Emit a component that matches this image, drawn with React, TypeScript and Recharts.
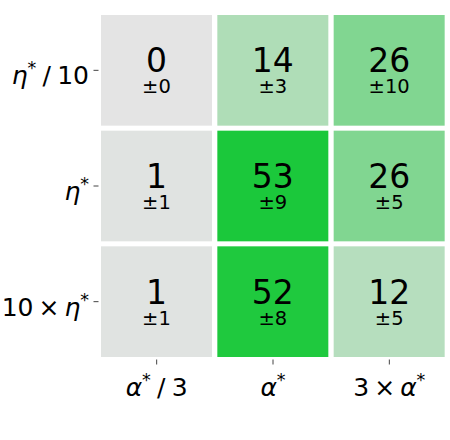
import { Bar, BarChart, XAxis, YAxis } from "recharts";

// heatmap values, rows top -> bottom, columns left -> right
const colLabels = ["α*/3", "α*", "3×α*"];
const rowLabels = ["η*/10", "η*", "10×η*"];
const means = [
  [0, 14, 26],
  [1, 53, 26],
  [1, 52, 12],
];
const stds = [
  [0, 3, 10],
  [1, 9, 5],
  [1, 8, 5],
];

const lowColor = [228, 228, 228];
const highColor = [27, 200, 59];
const colorMax = Math.max(...means.flat());

const font = "'DejaVu Sans', sans-serif";
const gap = 5;

function cellColor(v: number) {
  const t = v / colorMax;
  const c = lowColor.map((lo, i) => Math.round(lo + (highColor[i] - lo) * t));
  return `rgb(${c[0]},${c[1]},${c[2]})`;
}

// one unit of height per row, stacked, so each column holds three equal cells
const tableData = colLabels.map((col) => ({ col, r0: 1, r1: 1, r2: 1 }));

// crude mathtext: greek letters italic, "*" as superscript
function mathTspans(label: string, size: number) {
  const out: any[] = [];
  const rise = size * 0.4;
  let raised = false;
  Array.from(label).forEach((ch, i) => {
    if (ch === "*") {
      out.push(
        <tspan key={i} dy={-rise} fontSize={size * 0.7}>
          *
        </tspan>
      );
      raised = true;
      return;
    }
    const dy = raised ? rise : 0;
    raised = false;
    const italic = ch === "η" || ch === "α";
    let text = ch;
    if (ch === "/") text = "\u2005/\u2005";
    if (ch === "×") text = "\u2009×\u2009";
    out.push(
      <tspan key={i} dy={dy} fontStyle={italic ? "italic" : "normal"}>
        {text}
      </tspan>
    );
  });
  return out;
}

function XTick(props: any) {
  const { x, y, payload } = props;
  return (
    <text x={x} y={y + 29} textAnchor="middle" fontFamily={font} fontSize={25} fill="#000">
      {mathTspans(String(payload.value), 25)}
    </text>
  );
}

function YTick(props: any) {
  const { x, y, payload } = props;
  const row = 2 - Math.floor(payload.value);
  return (
    <text x={x - 2.5} y={y + 14} textAnchor="end" fontFamily={font} fontSize={25} fill="#000">
      {mathTspans(rowLabels[row], 25)}
    </text>
  );
}

function HeatCell(props: any) {
  const { x, y, width, height, index, row } = props;
  const cx = x + width / 2;
  const cy = y + height / 2;
  return (
    <g>
      <rect
        x={x + gap / 2}
        y={y + gap / 2}
        width={width - gap}
        height={height - gap}
        fill={cellColor(means[row][index])}
      />
      <text x={cx} y={cy + 2} textAnchor="middle" fontFamily={font} fill="#000">
        <tspan fontSize={33}>{means[row][index]}</tspan>
        <tspan x={cx} dy={21} fontSize={19.5}>
          ±{stds[row][index]}
        </tspan>
      </text>
    </g>
  );
}

export default function App() {
  return (
    <div style={{ position: "absolute", left: 0, top: 0, width: 450, height: 440, background: "#fff" }}>
      <BarChart
        width={450}
        height={440}
        data={tableData}
        margin={{ top: 12.5, right: 2.5, bottom: 30.5, left: 0 }}
        barCategoryGap={0}
        barGap={0}
      >
        <XAxis
          dataKey="col"
          type="category"
          height={50}
          axisLine={false}
          tickSize={5}
          tickLine={{ stroke: "#444" }}
          interval={0}
          tick={<XTick />}
        />
        <YAxis
          type="number"
          domain={[0, 3]}
          ticks={[0.5, 1.5, 2.5]}
          width={98.5}
          axisLine={false}
          tickSize={5}
          tickLine={{ stroke: "#444" }}
          tick={<YTick />}
        />
        {[2, 1, 0].map((r) => (
          <Bar
            key={r}
            dataKey={`r${r}`}
            stackId="grid"
            isAnimationActive={false}
            shape={(p: any) => <HeatCell {...p} row={r} />}
          />
        ))}
      </BarChart>
    </div>
  );
}
